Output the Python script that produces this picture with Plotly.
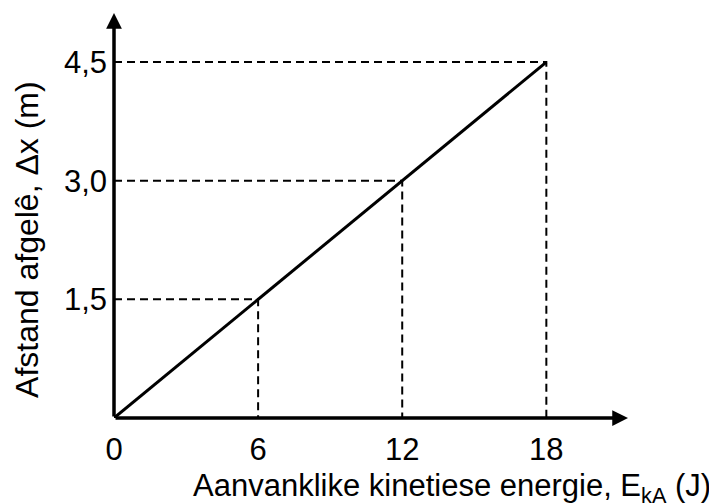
import plotly.graph_objects as go

# Data
energy = [0, 6, 12, 18]            # Aanvanklike kinetiese energie (J)
distance = [0, 1.5, 3.0, 4.5]      # Afstand afgelê (m)
x_ticks = [0, 6, 12, 18]
x_ticktext = ["0", "6", "12", "18"]
y_ticks = [1.5, 3.0, 4.5]
y_ticktext = ["1,5", "3,0", "4,5"]

X_MAX = 21.4
Y_MAX = 5.12
FONT = "Liberation Sans"

fig = go.Figure()

# dashed guide lines
for xi, yi in zip(energy[1:], distance[1:]):
    fig.add_trace(go.Scatter(
        x=[0, xi, xi], y=[yi, yi, 0], mode="lines",
        line=dict(color="black", width=2, dash="8px,5px"),
        hoverinfo="skip", showlegend=False, cliponaxis=False))

# main line
fig.add_trace(go.Scatter(
    x=energy, y=distance, mode="lines",
    line=dict(color="black", width=3),
    showlegend=False, cliponaxis=False))

# axes with arrows
for (tx, ty) in [(X_MAX, 0), (0, Y_MAX)]:
    fig.add_annotation(x=tx, y=ty, ax=0, ay=0, xref="x", yref="y", axref="x", ayref="y",
                       showarrow=True, arrowhead=2, arrowwidth=3.5, arrowsize=0.9,
                       arrowcolor="black", text="")

# axis titles
fig.add_annotation(
    x=1.1654, y=-0.172, xref="paper", yref="paper", xanchor="right", yanchor="middle",
    text="Aanvanklike kinetiese energie, E<sub>kA</sub> (J)", showarrow=False,
    font=dict(family=FONT, size=31, color="black"))
fig.add_annotation(
    x=-0.169, y=0.44, xref="paper", yref="paper", xanchor="center", yanchor="middle",
    text="Afstand afgelê, Δx (m)", showarrow=False, textangle=-90,
    font=dict(family=FONT, size=32, color="black"))

fig.update_xaxes(range=[0, X_MAX], tickvals=x_ticks, ticktext=x_ticktext,
                 showgrid=False, zeroline=False, showline=False, ticks="",
                 ticklabelstandoff=10,
                 tickfont=dict(family=FONT, size=31, color="black"))
fig.update_yaxes(range=[0, Y_MAX], tickvals=y_ticks, ticktext=y_ticktext,
                 showgrid=False, zeroline=False, showline=False, ticks="",
                 ticklabelstandoff=6,
                 tickfont=dict(family=FONT, size=31, color="black"))

fig.update_layout(
    width=709, height=495,
    margin=dict(l=106, r=89, t=5, b=85, autoexpand=False),
    plot_bgcolor="white", paper_bgcolor="white",
    font=dict(family=FONT, color="black"),
)

fig.write_html("out.html")
